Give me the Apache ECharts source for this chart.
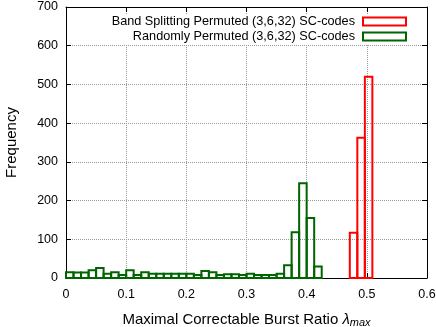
<!DOCTYPE html>
<html>
<head>
<meta charset="utf-8">
<script src="https://cdn.jsdelivr.net/npm/echarts/dist/echarts.min.js"></script>
<style>html,body{margin:0;padding:0;background:#fff;}#c{width:436px;height:327px;}</style>
</head>
<body>
<div id="c"></div>
<script>
const binWidth = 0.0125;
const greenName = 'Randomly Permuted (3,6,32) SC-codes';
const redName = 'Band Splitting Permuted (3,6,32) SC-codes';
const greenLeftEdges = [0, 0.0125, 0.025, 0.0375, 0.05, 0.0625, 0.075, 0.0875, 0.1, 0.1125, 0.125, 0.1375, 0.15, 0.1625, 0.175, 0.1875, 0.2, 0.2125, 0.225, 0.2375, 0.25, 0.2625, 0.275, 0.2875, 0.3, 0.3125, 0.325, 0.3375, 0.35, 0.3625, 0.375, 0.3875, 0.4, 0.4125];
const greenCounts = [15, 14, 14, 20, 26, 11, 15, 8, 20, 8, 15, 11, 11, 11, 11, 11, 11, 8, 18, 15, 8, 10, 10, 8, 11, 8, 8, 8, 11, 33, 118, 245, 155, 30];
const redLeftEdges = [0.4717, 0.4842, 0.4967];
const redCounts = [117, 362, 520];
const xTicks = [0, 0.1, 0.2, 0.3, 0.4, 0.5, 0.6];
const yTicks = [0, 100, 200, 300, 400, 500, 600, 700];

const GREEN = '#006400', RED = '#ff0000';
const FONT = 'Liberation Sans';

function toData(edges, counts) {
  return edges.map((e, i) => [e, e + binWidth, counts[i]]);
}
function makeRender(color) {
  return function (params, api) {
    const p0 = api.coord([api.value(0), api.value(2)]);
    const p1 = api.coord([api.value(1), 0]);
    return {
      type: 'rect',
      shape: { x: p0[0], y: p0[1], width: p1[0] - p0[0], height: p1[1] - p0[1] },
      style: { fill: 'none', stroke: color, lineWidth: 2 }
    };
  };
}

const chart = echarts.init(document.getElementById('c'), null, { renderer: 'canvas' });
const xMin = xTicks[0], xMax = xTicks[xTicks.length - 1];
const yMin = yTicks[0], yMax = yTicks[yTicks.length - 1];
const gridDots = { show: true, lineStyle: { color: '#999', type: 'dotted', width: 1, opacity: 1 } };
chart.setOption({
  animation: false,
  textStyle: { fontFamily: FONT },
  grid: { left: 66, right: 9, top: 7, bottom: 49, outerBoundsMode: 'none', containLabel: false, show: false },
  legend: {
    orient: 'vertical', align: 'right', right: 27, top: 14,
    itemWidth: 43, itemHeight: 8, itemGap: 2,
    backgroundColor: '#fff', padding: [1, 2, 1, 2],
    textStyle: { fontFamily: FONT, fontSize: 12.7, color: '#000', padding: [0, 3, 0, 0] },
    data: [
      { name: redName, icon: 'rect', itemStyle: { color: '#fff', borderColor: RED, borderWidth: 2 } },
      { name: greenName, icon: 'rect', itemStyle: { color: '#fff', borderColor: GREEN, borderWidth: 2 } }
    ]
  },
  xAxis: [{
    type: 'value', min: xMin, max: xMax, interval: 0.1, position: 'bottom',
    axisLine: { show: true, onZero: false, lineStyle: { color: '#000' } },
    axisTick: { show: true, inside: true, length: 5, lineStyle: { color: '#000' } },
    axisLabel: { color: '#000', fontSize: 12.5, margin: 10, fontFamily: FONT },
    splitLine: gridDots,
    name: '{a|Maximal Correctable Burst Ratio }{b|λ}{c|max}',
    nameLocation: 'middle', nameGap: 33,
    nameTextStyle: {
      color: '#000', fontFamily: FONT, fontSize: 15,
      rich: {
        a: { fontFamily: FONT, fontSize: 15, color: '#000' },
        b: { fontFamily: FONT, fontSize: 15, color: '#000', fontStyle: 'italic' },
        c: { fontFamily: FONT, fontSize: 11, color: '#000', fontStyle: 'italic', padding: [6, 0, 0, 0] }
      }
    }
  }, {
    type: 'value', min: xMin, max: xMax, interval: 0.1, position: 'top',
    axisLine: { show: true, onZero: false, lineStyle: { color: '#000' } },
    axisTick: { show: true, inside: true, length: 5, lineStyle: { color: '#000' } },
    axisLabel: { show: false }, splitLine: { show: false }
  }],
  yAxis: [{
    type: 'value', min: yMin, max: yMax, interval: 100, position: 'left',
    axisLine: { show: true, onZero: false, lineStyle: { color: '#000' } },
    axisTick: { show: true, inside: true, length: 5, lineStyle: { color: '#000' } },
    axisLabel: { color: '#000', fontSize: 12.5, margin: 8, fontFamily: FONT },
    splitLine: gridDots,
    name: 'Frequency', nameLocation: 'middle', nameGap: 47, nameRotate: 90,
    nameTextStyle: { color: '#000', fontFamily: FONT, fontSize: 15 }
  }, {
    type: 'value', min: yMin, max: yMax, interval: 100, position: 'right',
    axisLine: { show: true, onZero: false, lineStyle: { color: '#000' } },
    axisTick: { show: true, inside: true, length: 5, lineStyle: { color: '#000' } },
    axisLabel: { show: false }, splitLine: { show: false }
  }],
  series: [
    {
      name: redName, type: 'custom', xAxisIndex: 0, yAxisIndex: 0,
      renderItem: makeRender(RED), encode: { x: [0, 1], y: 2 },
      itemStyle: { color: RED }, data: toData(redLeftEdges, redCounts), z: 3
    },
    {
      name: greenName, type: 'custom', xAxisIndex: 0, yAxisIndex: 0,
      renderItem: makeRender(GREEN), encode: { x: [0, 1], y: 2 },
      itemStyle: { color: GREEN }, data: toData(greenLeftEdges, greenCounts), z: 3
    }
  ]
});
</script>
</body>
</html>
